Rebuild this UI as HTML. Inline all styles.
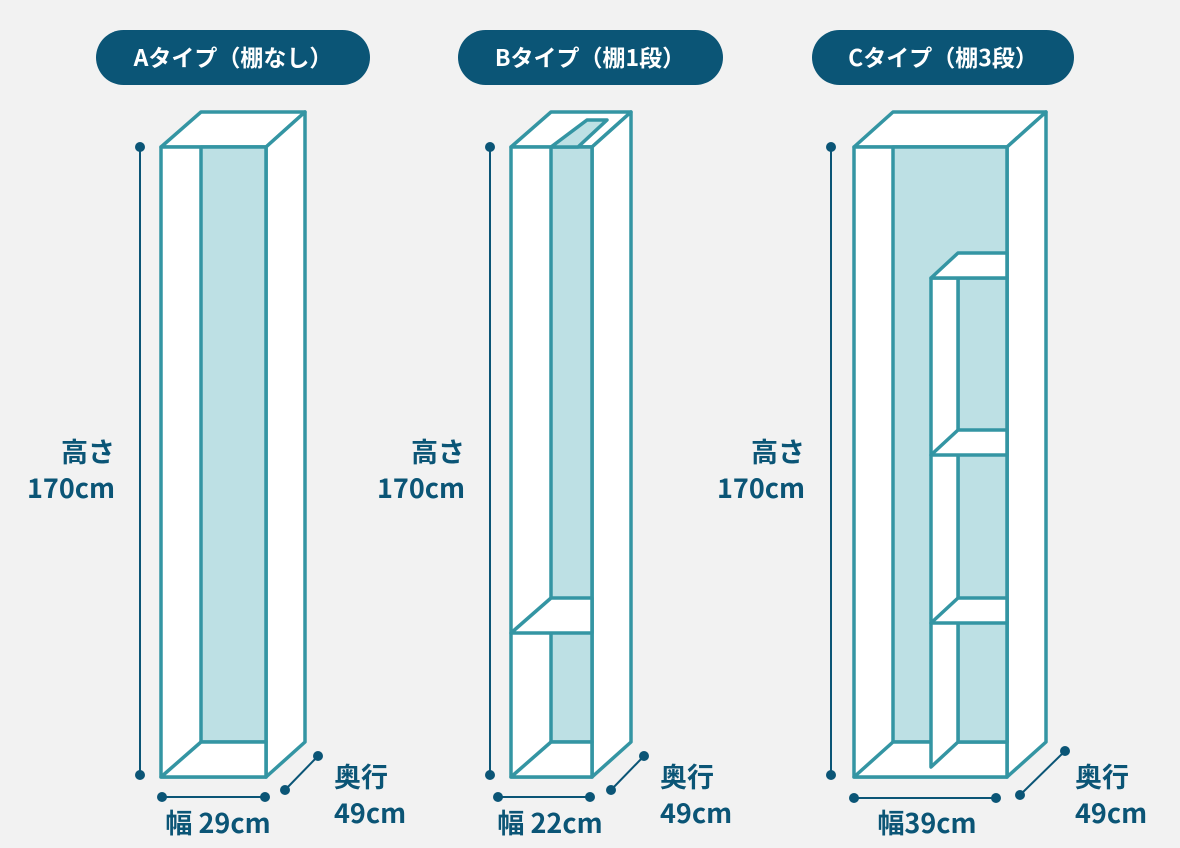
<!DOCTYPE html>
<html><head><meta charset="utf-8"><style>
html,body{margin:0;padding:0;background:#f2f2f2;}
svg{display:block;}
text{font-family:"Noto Sans CJK JP","Liberation Sans",sans-serif;font-weight:bold;fill:#0b5576;}
.p{fill:#0b5576;}
.pt{fill:#fff;font-size:23px;}
.s{stroke:#3495a3;stroke-width:3.5;stroke-linejoin:round;}
.w{fill:#fff;}
.l{fill:#bde0e4;}
.d{stroke:#0b5576;stroke-width:2;fill:none;}
.dt{fill:#0b5576;}
.lab{font-size:27px;}
</style></head><body>
<svg width="1180" height="848" viewBox="0 0 1180 848">
<rect class="p" x="96" y="30" width="274" height="55" rx="27.5"/>
<text class="pt" x="233" y="66" text-anchor="middle">Aタイプ（棚なし）</text>
<rect class="p" x="458" y="30" width="265" height="55" rx="27.5"/>
<text class="pt" x="590" y="66" text-anchor="middle">Bタイプ（棚1段）</text>
<rect class="p" x="812" y="30" width="262" height="55" rx="27.5"/>
<text class="pt" x="943" y="66" text-anchor="middle">Cタイプ（棚3段）</text>

<g class="s">
<polygon class="w" points="161,147 201,112 305,112 266,147"/>
<polygon class="w" points="266,147 305,112 305,742 266,777"/>
<rect class="w" x="161" y="147" width="105" height="630"/>
<rect class="l" x="201" y="147" width="65" height="595"/>
<polygon class="w" points="161,777 201,742 266,742 266,777"/>
</g>
<g class="s">
<polygon class="w" points="511,147 551,112 631,112 592,147"/>
<polygon class="w" points="592,147 631,112 631,742 592,777"/>
<rect class="w" x="511" y="147" width="81" height="630"/>
<rect class="l" x="551" y="147" width="41" height="595"/>
<polygon class="l" points="551,147 587,120 607,120 578,147"/>
<polygon class="w" points="511,633 551,598 592,598 592,633"/>
<polygon class="w" points="511,777 551,742 592,742 592,777"/>
</g>
<g class="s">
<polygon class="w" points="854,147 893,112 1046,112 1007,147"/>
<polygon class="w" points="1007,147 1046,112 1046,742 1007,777"/>
<rect class="w" x="854" y="147" width="153" height="630"/>
<rect class="l" x="893" y="147" width="114" height="595"/>
<polygon class="w" points="854,777 893,742 1007,742 1007,777"/>
<rect class="l" x="958" y="278" width="49" height="464"/>
<polygon class="w" points="931,278 958,278 958,742 931,767"/>
<polygon class="w" points="931,278 958,253 1007,253 1007,278"/>
<polygon class="w" points="931,455 958,430 1007,430 1007,455"/>
<polygon class="w" points="931,623 958,598 1007,598 1007,623"/>
</g>

<line class="d" x1="140" y1="147" x2="140" y2="775"/>
<circle class="dt" cx="140" cy="147" r="5"/><circle class="dt" cx="140" cy="775" r="5"/>
<text class="lab" x="115" y="462" text-anchor="end">高さ</text>
<text class="lab" x="115" y="498" text-anchor="end">170cm</text>
<line class="d" x1="162" y1="797" x2="265" y2="797"/>
<circle class="dt" cx="162" cy="797" r="5"/><circle class="dt" cx="265" cy="797" r="5"/>
<text class="lab" x="218" y="833" text-anchor="middle">幅 29cm</text>
<line class="d" x1="285" y1="790" x2="318" y2="756"/>
<circle class="dt" cx="285" cy="790" r="5"/><circle class="dt" cx="318" cy="756" r="5"/>
<text class="lab" x="334" y="787">奥行</text>
<text class="lab" x="334" y="823">49cm</text>

<line class="d" x1="490" y1="147" x2="490" y2="775"/>
<circle class="dt" cx="490" cy="147" r="5"/><circle class="dt" cx="490" cy="775" r="5"/>
<text class="lab" x="465" y="462" text-anchor="end">高さ</text>
<text class="lab" x="465" y="498" text-anchor="end">170cm</text>
<line class="d" x1="498" y1="797" x2="590" y2="797"/>
<circle class="dt" cx="498" cy="797" r="5"/><circle class="dt" cx="590" cy="797" r="5"/>
<text class="lab" x="550" y="833" text-anchor="middle">幅 22cm</text>
<line class="d" x1="611" y1="790" x2="644" y2="756"/>
<circle class="dt" cx="611" cy="790" r="5"/><circle class="dt" cx="644" cy="756" r="5"/>
<text class="lab" x="660" y="787">奥行</text>
<text class="lab" x="660" y="823">49cm</text>

<line class="d" x1="831" y1="147" x2="831" y2="775"/>
<circle class="dt" cx="831" cy="147" r="5"/><circle class="dt" cx="831" cy="775" r="5"/>
<text class="lab" x="805" y="462" text-anchor="end">高さ</text>
<text class="lab" x="805" y="498" text-anchor="end">170cm</text>
<line class="d" x1="854" y1="798" x2="996" y2="798"/>
<circle class="dt" cx="854" cy="798" r="5"/><circle class="dt" cx="996" cy="798" r="5"/>
<text class="lab" x="927" y="833" text-anchor="middle">幅39cm</text>
<line class="d" x1="1020" y1="795" x2="1065" y2="751"/>
<circle class="dt" cx="1020" cy="795" r="5"/><circle class="dt" cx="1065" cy="751" r="5"/>
<text class="lab" x="1075" y="787">奥行</text>
<text class="lab" x="1075" y="823">49cm</text>
</svg>
</body></html>
